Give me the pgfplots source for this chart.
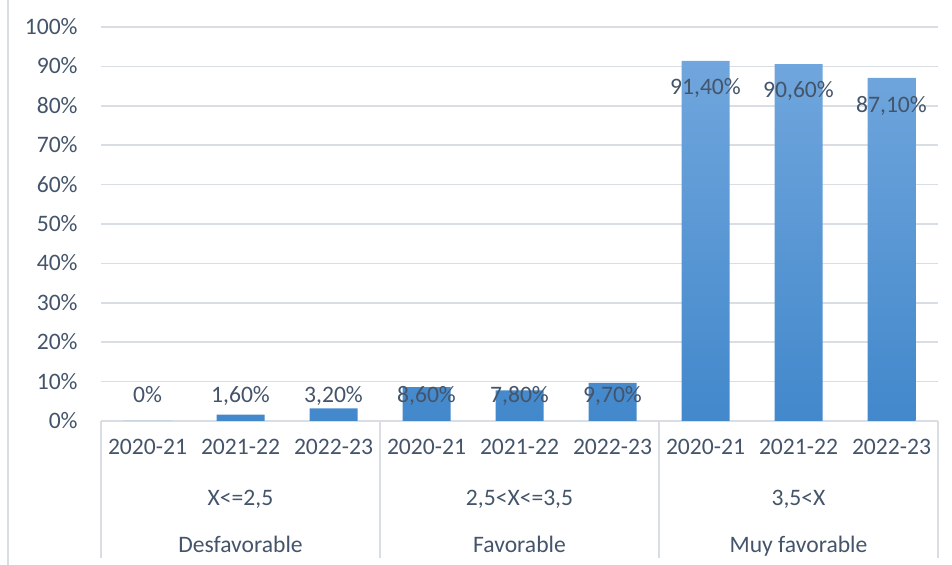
\documentclass[border=0pt]{standalone}
\usepackage{fontspec}
\setmainfont{Carlito}
\usepackage{pgfplots}
\pgfplotsset{compat=1.18}
\definecolor{txt}{RGB}{68,84,106}
\definecolor{gridc}{RGB}{217,222,229}
\definecolor{bartop}{RGB}{112,166,221}
\definecolor{barbot}{RGB}{66,136,203}
\newcommand{\lbl}{\fontsize{11.8}{14}\selectfont}

\begin{document}
\begin{tikzpicture}
\begin{axis}[
  scale only axis,
  width=418.5pt, height=197pt,
  xmin=-0.5, xmax=8.5, ymin=0, ymax=100,
  axis line style={draw=none},
  ytick={0,10,...,100},
  yticklabels={0\%,10\%,20\%,30\%,40\%,50\%,60\%,70\%,80\%,90\%,100\%},
  xtick={0,...,8},
  xticklabels={2020-21,2021-22,2022-23,2020-21,2021-22,2022-23,2020-21,2021-22,2022-23},
  ymajorgrids,
  grid style={gridc, line width=0.75pt},
  major tick length=0pt,
  tick label style={font=\lbl, text=txt},
  xticklabel style={anchor=base, yshift=-16.7pt, inner sep=0pt},
  yticklabel style={anchor=base east, xshift=-11.5pt, yshift=-3.73pt, inner sep=0pt},
  clip=false,
]
% bars
\addplot[ybar, bar width=24pt, draw=none, top color=bartop, bottom color=barbot]
  coordinates {(0,0) (1,1.6) (2,3.2) (3,8.6) (4,7.8) (5,9.7) (6,91.4) (7,90.6) (8,87.1)};
% data labels (placed as Excel shows them)
\addplot[draw=none, nodes near coords, point meta=explicit symbolic,
  nodes near coords style={anchor=base, yshift=-3.73pt, font=\lbl, text=txt, inner sep=0pt}]
  coordinates {(0,6.5) [0\%] (1,6.5) [1,60\%] (2,6.5) [3,20\%]
               (3,6.5) [8,60\%] (4,6.5) [7,80\%] (5,6.5) [9,70\%]
               (6,84.8) [91,40\%] (7,83.9) [90,60\%] (8,80.1) [87,10\%]};

% category separators
\draw[gridc, line width=0.75pt] (axis cs:-0.5,0) -- ++(0pt,-68.5pt);
\draw[gridc, line width=0.75pt] (axis cs:2.5,0) -- ++(0pt,-68.5pt);
\draw[gridc, line width=0.75pt] (axis cs:5.5,0) -- ++(0pt,-68.5pt);
\draw[gridc, line width=0.75pt] (axis cs:8.5,0) -- ++(0pt,-68.5pt);

% second and third category levels
\node[anchor=base, font=\lbl, text=txt, inner sep=0pt] at ([yshift=-42.2pt]axis cs:1,0) {X<=2,5};
\node[anchor=base, font=\lbl, text=txt, inner sep=0pt] at ([yshift=-42.2pt]axis cs:4,0) {2,5<X<=3,5};
\node[anchor=base, font=\lbl, text=txt, inner sep=0pt] at ([yshift=-42.2pt]axis cs:7,0) {3,5<X};
\node[anchor=base, font=\lbl, text=txt, inner sep=0pt] at ([yshift=-65.7pt]axis cs:1,0) {Desfavorable};
\node[anchor=base, font=\lbl, text=txt, inner sep=0pt] at ([yshift=-65.7pt]axis cs:4,0) {Favorable};
\node[anchor=base, font=\lbl, text=txt, inner sep=0pt] at ([yshift=-65.7pt]axis cs:7,0) {Muy favorable};

\coordinate (O) at (axis cs:-0.5,0);
\end{axis}
\draw[gridc, line width=0.75pt] ([shift={(-46.5pt,-72pt)}]O) -- ++(0,282.5pt);
\pgfresetboundingbox
\path[use as bounding box] ([shift={(-50.5pt,-72pt)}]O) rectangle ++(476pt,282.5pt);
\end{tikzpicture}
\end{document}
